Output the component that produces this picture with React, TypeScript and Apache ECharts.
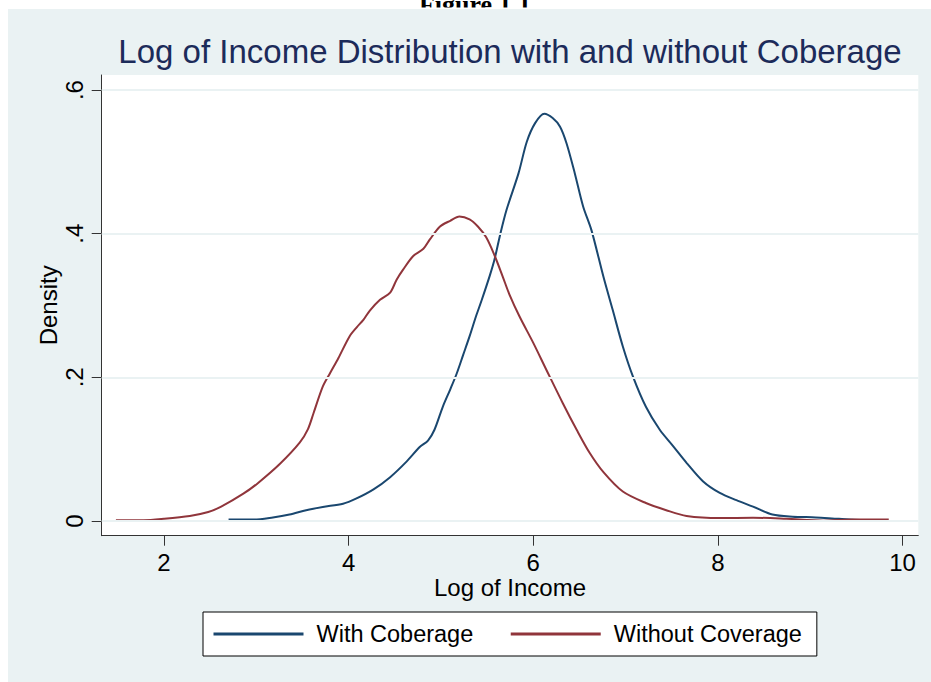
import React, { useEffect, useRef } from "react";
import * as echarts from "echarts";

const withX = [2.70, 2.97, 3.18, 3.36, 3.54, 3.72, 3.94, 4.08, 4.27, 4.45, 4.63, 4.77, 4.86, 4.93, 5.02, 5.10, 5.17, 5.24, 5.31, 5.38, 5.44, 5.53, 5.58, 5.64, 5.71, 5.84, 5.93, 6.02, 6.12, 6.21, 6.29, 6.36, 6.45, 6.54, 6.63, 6.76, 6.86, 6.97, 7.08, 7.22, 7.37, 7.51, 7.66, 7.84, 8.02, 8.20, 8.38, 8.59, 8.81, 9.06, 9.31, 9.64, 9.84];
const withY = [0.002, 0.002, 0.005, 0.009, 0.015, 0.0195, 0.024, 0.031, 0.044, 0.061, 0.083, 0.103, 0.112, 0.127, 0.159, 0.183, 0.205, 0.231, 0.257, 0.285, 0.307, 0.342, 0.364, 0.398, 0.433, 0.484, 0.528, 0.554, 0.567, 0.561, 0.549, 0.526, 0.484, 0.438, 0.405, 0.340, 0.294, 0.243, 0.201, 0.159, 0.127, 0.105, 0.081, 0.055, 0.039, 0.029, 0.020, 0.009, 0.006, 0.005, 0.003, 0.001, 0.001];

const withoutX = [1.48, 1.78, 2.00, 2.28, 2.48, 2.62, 2.86, 3.02, 3.26, 3.47, 3.56, 3.62, 3.72, 3.80, 3.89, 4.01, 4.09, 4.16, 4.23, 4.34, 4.45, 4.52, 4.59, 4.70, 4.81, 4.88, 4.99, 5.10, 5.20, 5.31, 5.40, 5.49, 5.58, 5.67, 5.74, 5.85, 6.00, 6.14, 6.32, 6.47, 6.61, 6.76, 6.97, 7.22, 7.44, 7.66, 8.02, 8.38, 8.74, 9.14, 9.46, 9.85];
const withoutY = [0.001, 0.001, 0.003, 0.007, 0.0125, 0.020, 0.038, 0.053, 0.080, 0.109, 0.128, 0.150, 0.187, 0.206, 0.227, 0.257, 0.270, 0.280, 0.293, 0.308, 0.318, 0.336, 0.350, 0.369, 0.379, 0.392, 0.410, 0.418, 0.424, 0.420, 0.410, 0.395, 0.370, 0.340, 0.316, 0.285, 0.248, 0.211, 0.164, 0.127, 0.095, 0.068, 0.041, 0.025, 0.015, 0.007, 0.004, 0.0046, 0.003, 0.0004, 0.002, 0.002];

const xTicks = [2, 4, 6, 8, 10];
const yTicks = [0, 0.2, 0.4, 0.6];
const seriesNames = ["With Coberage", "Without Coverage"];

const FONT = '"Liberation Sans", Arial, sans-serif';

export default function App() {
  const ref = useRef<HTMLDivElement>(null);
  useEffect(() => {
    if (!ref.current) return;
    const chart = echarts.init(ref.current, null, { renderer: "svg" });
    const zip = (xs: number[], ys: number[]) => xs.map((x, i) => [x, ys[i]]);
    chart.setOption({
      animation: false,
      backgroundColor: "#EAF2F3",
      textStyle: { fontFamily: FONT },
      graphic: [
        { type: "rect", z: 0, shape: { x: 0, y: 0, width: 931, height: 9 }, style: { fill: "#fff" }, silent: true },
        { type: "rect", z: 0, shape: { x: 0, y: 0, width: 8, height: 682 }, style: { fill: "#fff" }, silent: true },
        {
          type: "text",
          x: 475,
          y: 4,
          z: 1,
          style: {
            text: "Figure 1.1",
            font: 'bold 26px "Liberation Serif", "Times New Roman", serif',
            fill: "#000",
            textAlign: "center",
            textVerticalAlign: "middle",
          },
        },
        { type: "rect", z: 2, shape: { x: 380, y: 7.5, width: 200, height: 1.5 }, style: { fill: "#fff" }, silent: true },
        { type: "rect", z: 2, shape: { x: 380, y: 9, width: 200, height: 12 }, style: { fill: "#EAF2F3" }, silent: true },
      ],
      title: {
        text: "Log of Income Distribution with and without Coberage",
        left: 510,
        top: 35,
        padding: 0,
        textAlign: "center",
        textStyle: { fontFamily: FONT, fontSize: 33, fontWeight: "normal", color: "#1c2b5a" },
      },
      grid: {
        left: 101.7,
        top: 75,
        right: 12.7,
        bottom: 146.3,
        show: true,
        backgroundColor: "#fff",
        borderWidth: 0,
        containLabel: false,
      },
      xAxis: {
        type: "value",
        min: 1.326,
        max: 10.17,
        name: "Log of Income",
        nameLocation: "middle",
        nameGap: 42,
        nameMoveOverlap: false,
        nameTextStyle: { fontFamily: FONT, fontSize: 24, lineHeight: 20, color: "#000" },
        axisLine: { show: true, onZero: false, lineStyle: { color: "#333", width: 1 } },
        axisTick: { show: true, length: 10, customValues: xTicks, lineStyle: { color: "#333", width: 1 } },
        axisLabel: { customValues: xTicks, fontFamily: FONT, fontSize: 24, lineHeight: 20, color: "#000", margin: 17 },
        splitLine: { show: false },
      },
      yAxis: {
        type: "value",
        min: -0.0205,
        max: 0.621,
        name: "Density",
        nameLocation: "middle",
        nameGap: 41,
        nameMoveOverlap: false,
        nameTextStyle: { fontFamily: FONT, fontSize: 24, color: "#000" },
        axisLine: { show: true, onZero: false, lineStyle: { color: "#333", width: 1 } },
        axisTick: { show: true, length: 10, customValues: yTicks, lineStyle: { color: "#333", width: 1 } },
        axisLabel: {
          customValues: yTicks,
          rotate: 90,
          fontFamily: FONT,
          fontSize: 24,
          color: "#000",
          margin: 15,
          formatter: (v: number) => (v === 0 ? "0" : String(Math.round(v * 10) / 10).replace(/^0/, "")),
        },
        splitLine: { show: false },
      },
      legend: {
        data: seriesNames,
        left: 203,
        top: 612,
        orient: "horizontal",
        itemWidth: 90,
        itemHeight: 23,
        itemGap: 36,
        padding: [10, 15, 10, 9],
        borderColor: "#000",
        borderWidth: 1,
        borderRadius: 0,
        backgroundColor: "#fff",
        itemStyle: { opacity: 0, borderWidth: 0 },
        lineStyle: { width: 3, opacity: 1 },
        textStyle: { fontFamily: FONT, fontSize: 23.5, color: "#000", padding: [0, 0, 0, 8] },
      },
      series: [
        {
          type: "line",
          name: "grid",
          data: [],
          z: 1,
          silent: true,
          markLine: {
            silent: true,
            symbol: "none",
            label: { show: false },
            lineStyle: { color: "#EAF2F3", width: 2, type: "solid" },
            data: yTicks.map((v) => ({ yAxis: v })),
          },
        },
        {
          type: "line",
          name: seriesNames[0],
          data: zip(withX, withY),
          showSymbol: false,
          symbol: "none",
          smooth: 0.3,
          z: 3,
          color: "#1A476F",
          lineStyle: { color: "#1A476F", width: 2 },
        },
        {
          type: "line",
          name: seriesNames[1],
          data: zip(withoutX, withoutY),
          showSymbol: false,
          symbol: "none",
          smooth: 0.3,
          z: 3,
          color: "#90353B",
          lineStyle: { color: "#90353B", width: 2 },
        },
      ],
    });
    return () => chart.dispose();
  }, []);
  return (
    <div
      ref={ref}
      style={{ position: "absolute", left: 0, top: 0, width: 931, height: 682 }}
    />
  );
}
